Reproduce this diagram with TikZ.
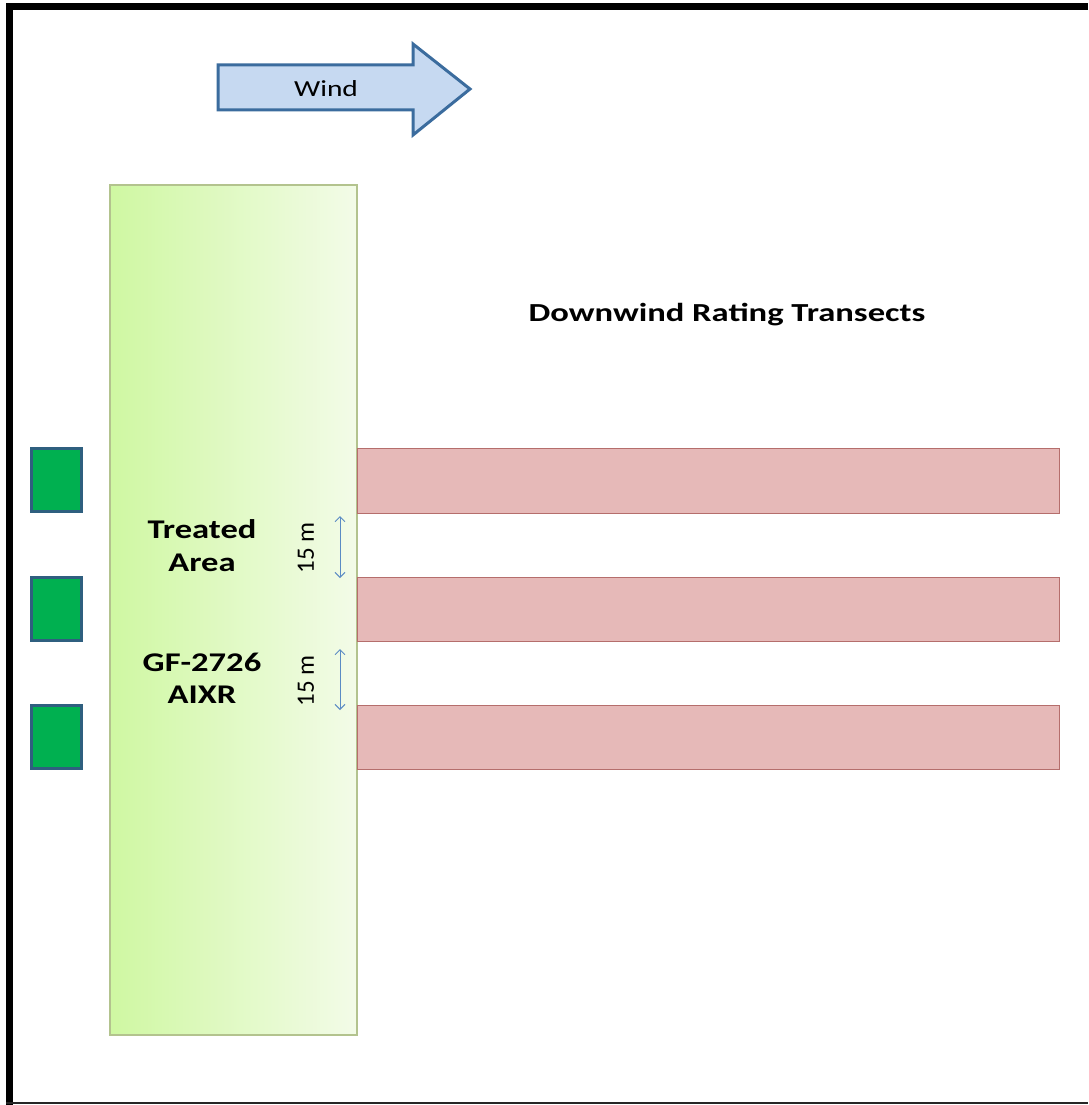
\documentclass[tikz,border=0pt]{standalone}
\usepackage{fontspec}
\setmainfont{Carlito}
\usetikzlibrary{arrows.meta}
\definecolor{sprayer}{HTML}{00B050}
\definecolor{sprayerline}{HTML}{2F5F7F}
\definecolor{pinkfill}{HTML}{E6B9B8}
\definecolor{pinkline}{HTML}{B56E6C}
\definecolor{windfill}{HTML}{C6D9F1}
\definecolor{windline}{HTML}{3B6C9E}
\definecolor{areaL}{HTML}{CFF8A2}
\definecolor{areaR}{HTML}{F3FBE8}
\definecolor{arealine}{HTML}{B3C38E}
\definecolor{dimline}{HTML}{5B8BC4}
\tikzset{
  sprayerbox/.style={draw=sprayerline, line width=3pt, fill=sprayer},
  transect/.style={draw=pinkline, line width=1pt, fill=pinkfill},
  boldlabel/.style={font=\bfseries\fontsize{27}{30}\selectfont, inner sep=0pt},
  dimarrow/.style={draw=dimline, line width=1pt, {Straight Barb[length=5pt,width=10pt]}-{Straight Barb[length=5pt,width=10pt]}},
  dimlabel/.style={font=\fontsize{25}{27}\selectfont, inner sep=0pt, rotate=90},
}
\begin{document}
\begin{tikzpicture}[x=1pt,y=-1pt]
\useasboundingbox (0,0) rectangle (1088,1105);
\fill[white] (0,0) rectangle (1088,1105);
% frame
\fill[black] (6,3) rectangle (13,1105);
\fill[black] (6,3) rectangle (1088,10);
\draw[black!85, line width=1.5pt] (6,1103) -- (1088,1103);
% wind arrow
\draw[windline, line width=3pt, fill=windfill, line join=miter]
  (218,65) -- (413,65) -- (413,44) -- (470,89) -- (413,135) -- (413,110) -- (218,110) -- cycle;
\node[font=\fontsize{23}{25}\selectfont, inner sep=0pt] (wind) at (326,89) {\scalebox{1.28}[1]{Wind}};
% treated area
\shade[left color=areaL, right color=areaR] (110,185) rectangle (357,1035);
\draw[arealine, line width=1.5pt] (110,185) rectangle (357,1035);
\node[inner sep=0pt, minimum width=247pt, minimum height=850pt] (area) at (233.5,610) {};
% transects
\node[transect, minimum width=702pt, minimum height=65pt, inner sep=0pt] (t1) at (708,480.5) {};
\node[transect, minimum width=702pt, minimum height=64pt, inner sep=0pt] (t2) at (708,609) {};
\node[transect, minimum width=702pt, minimum height=64pt, inner sep=0pt] (t3) at (708,737) {};
% sprayers
\node[sprayerbox, minimum width=50pt, minimum height=63pt, inner sep=0pt] (s1) at (56,480) {};
\node[sprayerbox, minimum width=50pt, minimum height=63pt, inner sep=0pt] (s2) at (56,609) {};
\node[sprayerbox, minimum width=50pt, minimum height=63pt, inner sep=0pt] (s3) at (56,737) {};
% labels
\node[font=\bfseries\fontsize{26}{28}\selectfont, inner sep=0pt] (title) at (727,315) {\scalebox{1.33}[1]{Downwind Rating Transects}};
\node[boldlabel] (tr1) at (202,529) {\scalebox{1.28}[1]{Treated}};
\node[boldlabel] (tr2) at (202,563) {\scalebox{1.28}[1]{Area}};
\node[boldlabel] (gf1) at (202,662) {\scalebox{1.28}[1]{GF-2726}};
\node[boldlabel] (gf2) at (202,695) {\scalebox{1.28}[1]{AIXR}};
% dimensions
\coordinate (d1a) at (340,516);
\coordinate (d1b) at (340,578);
\coordinate (d2a) at (340,649);
\coordinate (d2b) at (340,710);
\draw[dimarrow] (d1a) -- (d1b);
\draw[dimarrow] (d2a) -- (d2b);
\node[dimlabel] (m1) at (306,548) {15 m};
\node[dimlabel] (m2) at (306,681) {15 m};
\end{tikzpicture}
\end{document}
